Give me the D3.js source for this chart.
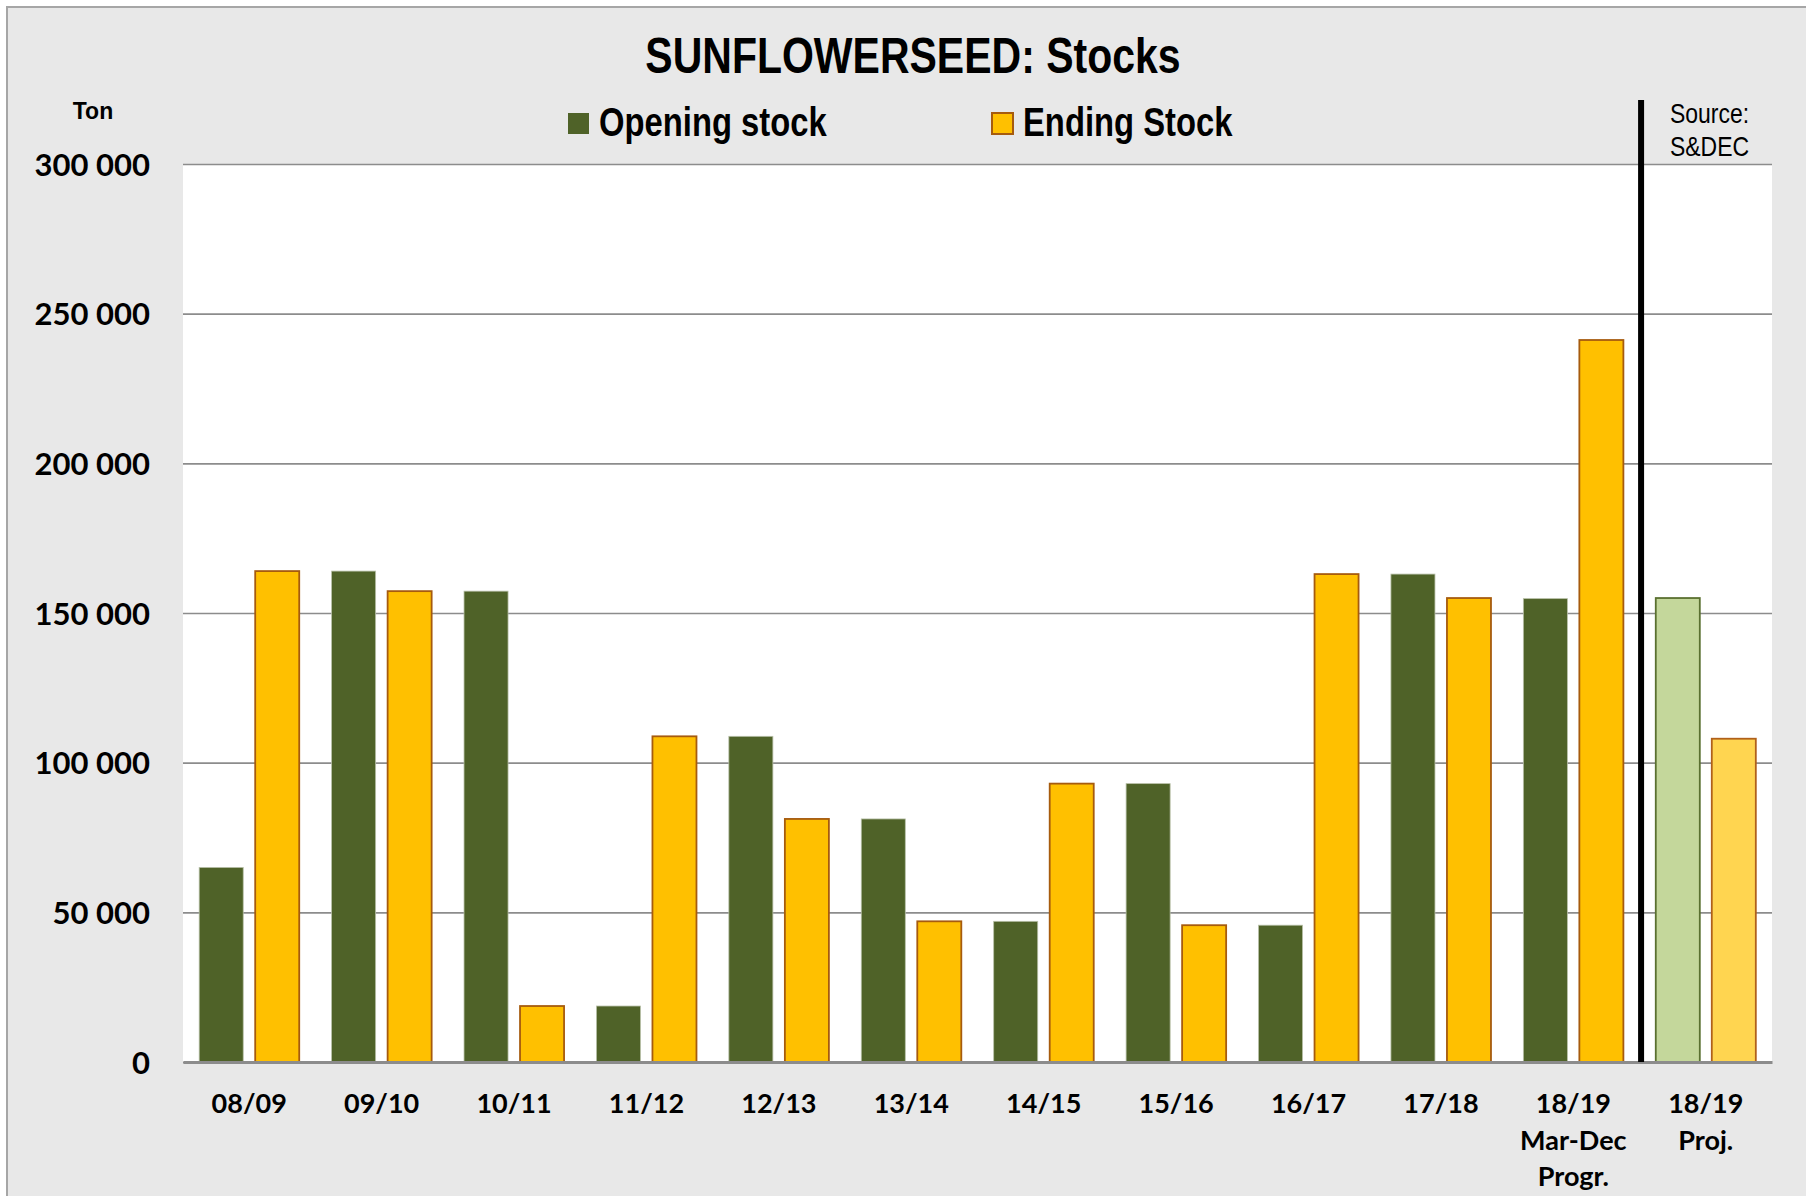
<!DOCTYPE html>
<html>
<head>
<meta charset="utf-8">
<script src="https://cdn.jsdelivr.net/npm/d3@7"></script>
<style>
  html, body { margin: 0; padding: 0; background: #ffffff; }
  svg { display: block; }
</style>
</head>
<body>
<svg id="chart" width="1806" height="1196"></svg>
<script>
// ---------- DATA ----------
const categories = ["08/09","09/10","10/11","11/12","12/13","13/14","14/15","15/16","16/17","17/18","18/19 Mar-Dec Progr.","18/19 Proj."];
const categoryLabels = [["08/09"],["09/10"],["10/11"],["11/12"],["12/13"],["13/14"],["14/15"],["15/16"],["16/17"],["17/18"],["18/19","Mar-Dec","Progr."],["18/19","Proj."]];
const openingStock = [65000, 164000, 157300, 18700, 108800, 81200, 47000, 93000, 45700, 163000, 154800, 155000];
const endingStock  = [164000, 157300, 18700, 108800, 81200, 47000, 93000, 45700, 163000, 155000, 241200, 108000];
const seriesNames = ["Opening stock", "Ending Stock"];
const yTickValues = [0, 50000, 100000, 150000, 200000, 250000, 300000];
const yTickLabels = ["0", "50 000", "100 000", "150 000", "200 000", "250 000", "300 000"];
const titleText = "SUNFLOWERSEED: Stocks";
const unitText = "Ton";
const sourceLines = ["Source:", "S&DEC"];
const projectionCategory = "18/19 Proj.";

// ---------- LAYOUT / STYLE ----------
const W = 1806, H = 1196;
const plot = { left: 183, right: 1772, top: 164, bottom: 1062 };
const C = {
  bg: "#e8e8e8", frame: "#a6a6a6", grid: "#8c8c8c",
  green: "#4f6228", yellow: "#ffc000", yellowStroke: "#a65b0e",
  projGreen: "#c4d79b", projGreenStroke: "#5a7030",
  projYellow: "#ffd550", projYellowStroke: "#b0601a"
};
const calib = "Lato, 'Open Sans', 'Noto Sans', sans-serif";

const svg = d3.select("#chart");

// detect narrow font availability
function measure(fam, weight) {
  const t = svg.append("text").attr("font-family", fam).attr("font-weight", weight)
    .attr("font-size", 40).text("SUNFLOWERSEED Stocks");
  const w = t.node().getComputedTextLength(); t.remove(); return w;
}
const hasNarrow = Math.abs(measure("'Liberation Sans Narrow', monospace", "bold") - measure("monospace", "bold")) > 2;
const narrow = hasNarrow ? "'Liberation Sans Narrow', sans-serif" : "'Liberation Sans', Arial, sans-serif";
function narrowText(sel, x, y) {
  // place condensed text; emulate condensation if the narrow face is missing
  if (hasNarrow) sel.attr("x", x).attr("y", y);
  else sel.attr("x", 0).attr("y", 0).attr("transform", `translate(${x},${y}) scale(0.82,1)`);
  return sel;
}

// background
svg.append("rect").attr("x", 0).attr("y", 0).attr("width", W).attr("height", H).attr("fill", "#ffffff");
svg.append("rect").attr("x", 7).attr("y", 7).attr("width", W + 10).attr("height", H + 10)
  .attr("fill", C.bg).attr("stroke", C.frame).attr("stroke-width", 2);
svg.append("rect").attr("x", plot.left).attr("y", plot.top)
  .attr("width", plot.right - plot.left).attr("height", plot.bottom - plot.top).attr("fill", "#ffffff");

// scales
const x = d3.scaleBand().domain(categories).range([plot.left, plot.right]).paddingInner(0).paddingOuter(0);
const x1 = d3.scaleBand().domain(seriesNames).range([0, x.bandwidth()]).paddingInner(0.214).paddingOuter(0.289);
const y = d3.scaleLinear().domain([0, 300000]).range([plot.bottom, plot.top]);

// gridlines + y labels
const yAxis = d3.axisLeft(y).tickValues(yTickValues)
  .tickFormat((d, i) => yTickLabels[i])
  .tickSize(-(plot.right - plot.left)).tickPadding(33);
const gy = svg.append("g").attr("transform", `translate(${plot.left},0)`).call(yAxis);
gy.select(".domain").remove();
gy.selectAll(".tick line").attr("stroke", C.grid).attr("stroke-width", 1.6);
gy.selectAll(".tick text").attr("font-family", calib).attr("font-weight", "bold")
  .attr("font-size", 31).attr("fill", "#000").attr("dy", "0.36em");

// bars
const rows = categories.map((c, i) => ({ cat: c, vals: [openingStock[i], endingStock[i]] }));
const groups = svg.append("g").selectAll("g").data(rows).join("g")
  .attr("transform", d => `translate(${x(d.cat)},0)`);
groups.selectAll("rect").data(d => d.vals.map((v, k) => ({ cat: d.cat, key: seriesNames[k], k, v })))
  .join("rect")
  .attr("x", d => x1(d.key))
  .attr("y", d => y(d.v))
  .attr("width", x1.bandwidth())
  .attr("height", d => y(0) - y(d.v))
  .attr("fill", d => d.cat === projectionCategory ? (d.k === 0 ? C.projGreen : C.projYellow) : (d.k === 0 ? C.green : C.yellow))
  .attr("stroke", d => d.cat === projectionCategory ? (d.k === 0 ? C.projGreenStroke : C.projYellowStroke) : (d.k === 0 ? "#b8c0a8" : C.yellowStroke))
  .attr("stroke-width", d => d.k === 0 && d.cat !== projectionCategory ? 0.8 : 1.8);

// x axis
const xAxis = d3.axisBottom(x).tickSize(0).tickFormat("");
const gx = svg.append("g").attr("transform", `translate(0,${plot.bottom})`).call(xAxis);
gx.select(".domain").attr("stroke", C.grid).attr("stroke-width", 3);
gx.selectAll(".tick").each(function (d, i) {
  const t = d3.select(this).append("text").attr("text-anchor", "middle")
    .attr("font-family", calib).attr("font-weight", "bold").attr("font-size", 27).attr("fill", "#000");
  categoryLabels[i].forEach((line, j) => {
    t.append("tspan").attr("x", 0).attr("y", 51 + j * 36.5).text(line);
  });
});

// separator line
svg.append("line")
  .attr("x1", x(projectionCategory) + 1.5).attr("x2", x(projectionCategory) + 1.5)
  .attr("y1", 100).attr("y2", plot.bottom)
  .attr("stroke", "#000").attr("stroke-width", 6);

// title
narrowText(svg.append("text").attr("text-anchor", "middle")
  .attr("font-family", narrow).attr("font-weight", "bold").attr("font-size", 50).attr("fill", "#000")
  .text(titleText), 913, 73);

// unit (regular width bold)
svg.append("text").attr("text-anchor", "middle").attr("x", 93).attr("y", 119)
  .attr("font-family", "'Liberation Sans', Arial, sans-serif").attr("font-weight", "bold")
  .attr("font-size", 23).attr("fill", "#000").text(unitText);

// legend
const legendX = [568, 992];
seriesNames.forEach((name, k) => {
  svg.append("rect").attr("x", legendX[k]).attr("y", 113).attr("width", 21).attr("height", 21)
    .attr("fill", k === 0 ? C.green : C.yellow)
    .attr("stroke", k === 0 ? "none" : C.yellowStroke).attr("stroke-width", 2);
  narrowText(svg.append("text").attr("font-family", narrow).attr("font-weight", "bold")
    .attr("font-size", 40).attr("fill", "#000").text(name), legendX[k] + 31, 136);
});

// source
sourceLines.forEach((line, j) => {
  narrowText(svg.append("text").attr("font-family", narrow).attr("font-size", 28).attr("fill", "#000")
    .text(line), 1670, 123 + j * 33);
});
</script>
</body>
</html>
